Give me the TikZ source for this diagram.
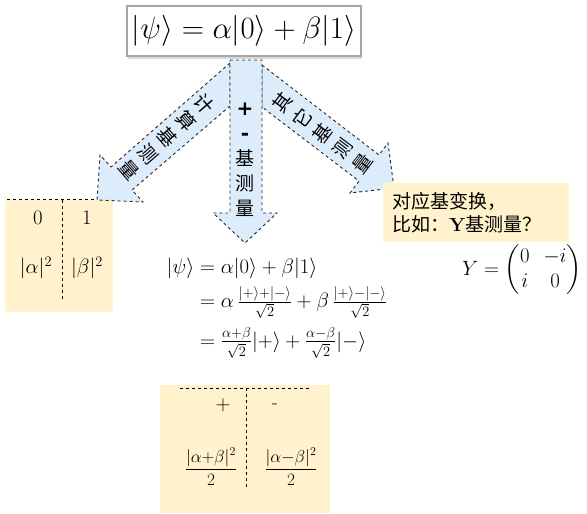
\documentclass[tikz,border=0pt]{standalone}
\usepackage{amsmath}
\usepackage{graphicx}
\usepackage{fontspec}
\newfontfamily\cjk{Noto Sans CJK SC}
\newfontfamily\symb{DejaVu Sans}
\usetikzlibrary{shadows}
\definecolor{arrowblue}{RGB}{221,236,250}
\definecolor{paleyellow}{RGB}{255,242,204}
\definecolor{boxgray}{RGB}{166,166,166}
\begin{document}
\begin{tikzpicture}[x=1pt,y=-1pt,
  arrowshape/.style={fill=arrowblue, draw=black!85, dashed, line width=0.9pt, line join=miter},
  divider/.style={draw=black, dashed, line width=0.8pt},
  cjkstack/.style={font=\cjk\fontsize{19}{25}\selectfont, align=center, inner sep=0pt},
  mathtxt/.style={inner sep=0pt, font=\fontsize{21}{25}\selectfont},
  smalltxt/.style={inner sep=0pt, font=\fontsize{17}{20}\selectfont},
]
\useasboundingbox (0,0) rectangle (587,514);

% tables (fills first)
\fill[paleyellow] (5,200) rectangle (113,312);

% arrows
\draw[arrowshape] (230,63) -- (111,167) -- (100,155) -- (97,200) -- (143,202) -- (132,190) -- (230,106) -- cycle;
\draw[arrowshape] (262,65) -- (379,155) -- (388,143) -- (394,188) -- (350,193) -- (359,181) -- (262,107) -- cycle;
\draw[arrowshape] (230,60) -- (262,60) -- (262,213) -- (277,213) -- (245,243) -- (213,213) -- (230,213) -- cycle;

% top box
\node[draw=boxgray, line width=2.5pt, fill=white, minimum width=234pt, minimum height=50pt, inner sep=0pt,
      drop shadow={shadow xshift=1pt, shadow yshift=-3pt, opacity=0.3}] (psi) at (244,31)
  {\scalebox{1.24}{\fontsize{24.88}{30}\selectfont$|\psi\rangle = \alpha|0\rangle + \beta|1\rangle$}};

% arrow labels
\node[cjkstack, rotate=-49] (leftlabel) at (167,137) {计\\算\\基\\测\\量};
\node[cjkstack, rotate=53] (rightlabel) at (322,133) {其\\它\\基\\测\\量};
\node[cjkstack] (midlabel) at (245,160) {{\symb\bfseries\fontsize{20}{25}\selectfont +}\\{\symb\bfseries\fontsize{20}{25}\selectfont -}\\基\\测\\量};

% left table
\draw[divider] (7,199) -- (97,199);
\draw[divider] (62,200) -- (62,300);
\node[mathtxt] (l0) at (38,218) {$0$};
\node[mathtxt] (l1) at (87,218) {$1$};
\node[mathtxt] (la) at (36,268) {$|\alpha|^2$};
\node[mathtxt] (lb) at (87,268) {$|\beta|^2$};

% right note
\node[fill=paleyellow, minimum width=186pt, minimum height=59pt, text width=168pt, align=left,
      inner xsep=9pt, inner ysep=4pt, font=\fontsize{19}{23}\selectfont] (note) at (476,212.5)
  {{\cjk 对应基变换，}\\{\cjk 比如：}\textbf{Y}{\cjk 基测量？}};

% Y matrix
\node[mathtxt] (ymat) at (522,270) {$Y = \setlength{\arraycolsep}{7pt}\begin{pmatrix} 0 & -i\\ i & 0\end{pmatrix}$};

% equations
\node[mathtxt] (eqs) at (277,307)
  {$\begin{aligned}
   |\psi\rangle &= \alpha|0\rangle + \beta|1\rangle\\[2pt]
   &= \alpha\,\tfrac{|+\rangle+|-\rangle}{\sqrt{2}} + \beta\,\tfrac{|+\rangle-|-\rangle}{\sqrt{2}}\\[5pt]
   &= \tfrac{\alpha+\beta}{\sqrt{2}}|+\rangle + \tfrac{\alpha-\beta}{\sqrt{2}}|-\rangle
  \end{aligned}$};

% bottom table
\fill[paleyellow] (160,385) rectangle (330,513);
\draw[divider] (180,388) -- (312,388);
\draw[divider] (246,388) -- (246,490);
\node[smalltxt, font=\fontsize{21}{24}\selectfont] (bp) at (223,405) {$+$};
\node[smalltxt, font=\fontsize{19}{22}\selectfont] (bm) at (275,406) {-};
\node[smalltxt] (bfa) at (211,467) {$\dfrac{|\alpha{+}\beta|^2}{2}$};
\node[smalltxt] (bfb) at (291,467) {$\dfrac{|\alpha{-}\beta|^2}{2}$};
\end{tikzpicture}
\end{document}
